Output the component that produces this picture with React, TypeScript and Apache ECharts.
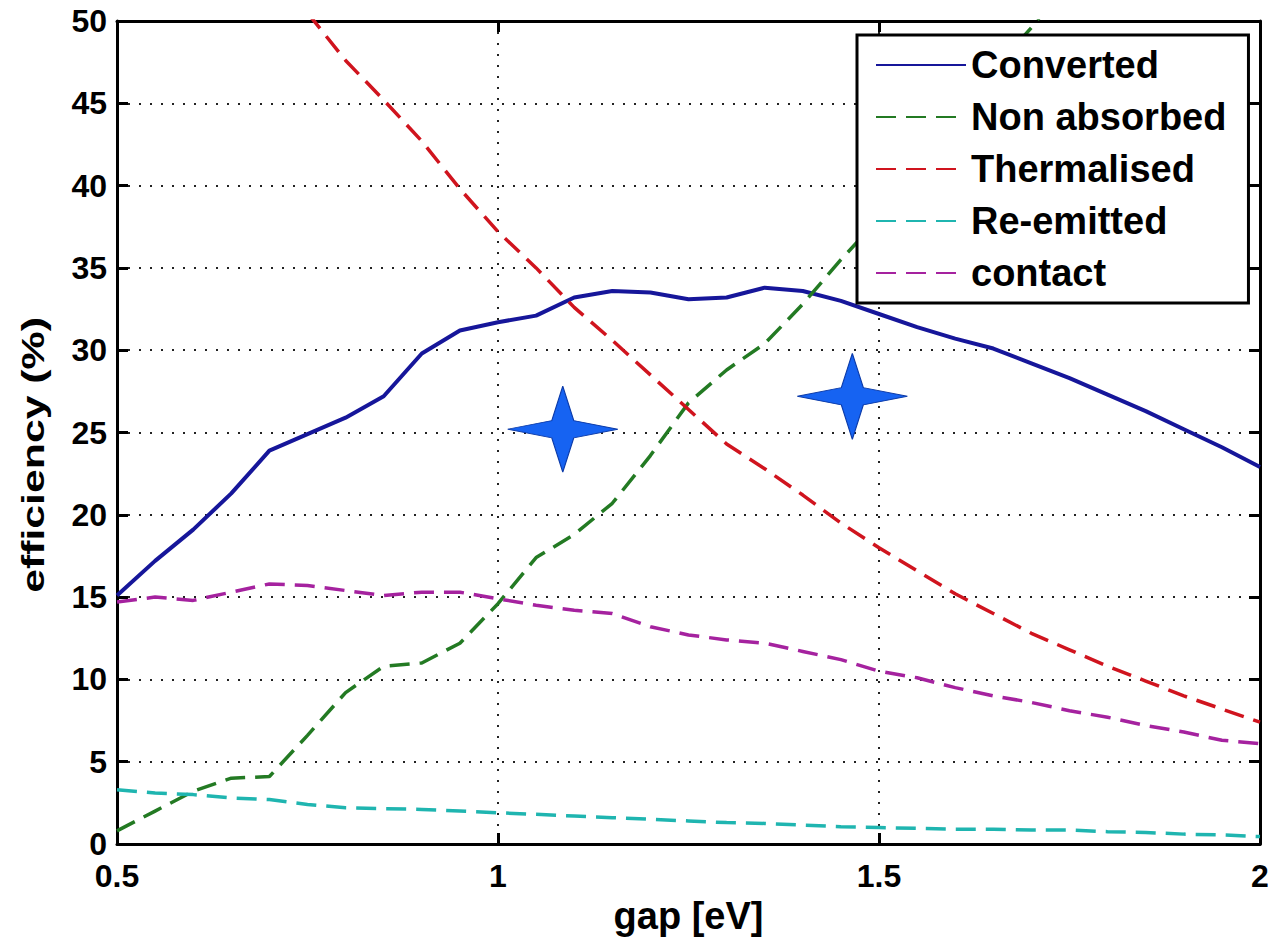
import React, { useEffect, useRef } from "react";
import * as echarts from "echarts";

// band gap [eV]
const gap = [
  0.5, 0.55, 0.6, 0.65, 0.7, 0.75, 0.8, 0.85, 0.9, 0.95, 1.0, 1.05, 1.1, 1.15, 1.2, 1.25,
  1.3, 1.35, 1.4, 1.45, 1.5, 1.55, 1.6, 1.65, 1.7, 1.75, 1.8, 1.85, 1.9, 1.95, 2.0,
];

const converted = [
  15.1, 17.2, 19.1, 21.3, 23.9, 24.9, 25.9, 27.2, 29.8, 31.2, 31.7, 32.1, 33.2, 33.6, 33.5, 33.1,
  33.2, 33.8, 33.6, 33.0, 32.2, 31.4, 30.7, 30.1, 29.2, 28.3, 27.3, 26.3, 25.2, 24.1, 22.9,
];

const nonAbsorbed = [
  0.8, 2.0, 3.2, 4.0, 4.1, 6.6, 9.2, 10.8, 11.0, 12.2, 14.6, 17.4, 18.8, 20.7, 23.6, 26.8,
  28.8, 30.4, 32.8, 35.5, 38.0, 41.0, 44.0, 47.0, 49.6, 52.5, null, null, null, null, null,
];

const thermalised = [
  null, null, null, null, null, 50.5, 47.6, 45.2, 42.7, 39.8, 37.2, 35.0, 32.6, 30.6, 28.5, 26.4,
  24.3, 22.8, 21.2, 19.5, 18.0, 16.6, 15.2, 14.0, 12.8, 11.8, 10.8, 9.9, 9.0, 8.2, 7.4,
];

const reEmitted = [
  3.3, 3.1, 3.0, 2.8, 2.7, 2.4, 2.2, 2.15, 2.1, 2.0, 1.9, 1.8, 1.7, 1.6, 1.5, 1.4,
  1.3, 1.25, 1.15, 1.05, 1.0, 0.95, 0.9, 0.9, 0.85, 0.85, 0.75, 0.7, 0.6, 0.55, 0.45,
];

const contact = [
  14.7, 15.0, 14.8, 15.3, 15.8, 15.7, 15.4, 15.1, 15.3, 15.3, 14.9, 14.5, 14.2, 14.0, 13.2, 12.7,
  12.4, 12.2, 11.7, 11.2, 10.5, 10.1, 9.5, 9.0, 8.6, 8.1, 7.7, 7.2, 6.8, 6.3, 6.1,
];

const seriesNames = ["Converted", "Non absorbed", "Thermalised", "Re-emitted", "contact"];
const seriesColors = ["#16169a", "#237a23", "#d0141e", "#1fb5b0", "#a5229f"];

// star annotations [gap, efficiency]
const starPoints = [
  [1.085, 25.2],
  [1.465, 27.2],
];

const xTicks = { min: 0.5, max: 2, interval: 0.5 };
const yTicks = { min: 0, max: 50, interval: 5 };

const xAxisTitle = "gap [eV]";
const yAxisTitle = "efficiency (%)";

const FONT = "'Liberation Sans', Arial, sans-serif";

const starPath =
  "path://M0,-100 L20,-20 L100,0 L20,20 L0,100 L-20,20 L-100,0 L-20,-20 Z";

function pairs(vals: (number | null)[]) {
  const out: number[][] = [];
  gap.forEach((x, i) => {
    const v = vals[i];
    if (v !== null && v !== undefined) out.push([x, v]);
  });
  return out;
}

export default function App() {
  const ref = useRef<HTMLDivElement>(null);

  useEffect(() => {
    if (!ref.current) return;
    const chart = echarts.init(ref.current, null, { renderer: "svg" });

    const allVals = [converted, nonAbsorbed, thermalised, reEmitted, contact];
    const lineSeries = seriesNames.map((name, i) => ({
      name,
      type: "line",
      data: pairs(allVals[i]),
      symbol: "none",
      showSymbol: false,
      clip: true,
      z: 2,
      lineStyle: {
        color: seriesColors[i],
        width: i === 0 ? 4 : 3.5,
        type: i === 0 ? "solid" : [20, 10],
      },
      itemStyle: { color: seriesColors[i] },
    }));

    const axisLineStyle = { color: "#000", width: 3 };

    const option: any = {
      animation: false,
      backgroundColor: "#fff",
      grid: { left: 117, top: 21, right: 14, bottom: 100, containLabel: false },
      legend: {
        data: seriesNames,
        orient: "vertical",
        left: 857,
        top: 35,
        padding: [10, 22, 10, 18],
        itemWidth: 90,
        itemHeight: 14,
        itemGap: 12,
        backgroundColor: "#fff",
        borderColor: "#000",
        borderWidth: 3,
        borderRadius: 0,
        z: 10,
        itemStyle: { opacity: 0, color: "rgba(0,0,0,0)", borderWidth: 0 },
        textStyle: {
          fontFamily: FONT,
          fontWeight: "bold",
          fontSize: 38,
          lineHeight: 40,
          color: "#000",
        },
      },
      graphic: [
        {
          type: "text",
          x: 33,
          y: 455,
          rotation: Math.PI / 2,
          scaleX: 1.07,
          scaleY: 0.8,
          silent: true,
          style: {
            text: yAxisTitle,
            fontFamily: FONT,
            fontWeight: "bold",
            fontSize: 40,
            fill: "#000",
            align: "center",
            verticalAlign: "middle",
          },
        },
      ],
      xAxis: [
        {
          type: "value",
          ...xTicks,
          name: xAxisTitle,
          nameLocation: "middle",
          nameGap: 50,
          nameTextStyle: { fontFamily: FONT, fontWeight: "bold", fontSize: 38, color: "#000" },
          axisLine: { show: true, onZero: false, lineStyle: axisLineStyle },
          axisTick: { show: true, inside: true, length: 11, lineStyle: axisLineStyle },
          axisLabel: {
            fontFamily: FONT,
            fontWeight: "bold",
            fontSize: 32,
            lineHeight: 26,
            color: "#000",
            margin: 19,
          },
          splitLine: { show: true, lineStyle: { type: [2, 9], color: "#222", width: 2 } },
        },
        {
          type: "value",
          ...xTicks,
          position: "top",
          axisLine: { show: true, onZero: false, lineStyle: axisLineStyle },
          axisTick: { show: true, inside: true, length: 11, lineStyle: axisLineStyle },
          axisLabel: { show: false },
          splitLine: { show: false },
        },
      ],
      yAxis: [
        {
          type: "value",
          ...yTicks,
          axisLine: { show: true, onZero: false, lineStyle: axisLineStyle },
          axisTick: { show: true, inside: true, length: 11, lineStyle: axisLineStyle },
          axisLabel: {
            fontFamily: FONT,
            fontWeight: "bold",
            fontSize: 32,
            lineHeight: 24,
            color: "#000",
            margin: 10,
          },
          splitLine: { show: true, lineStyle: { type: [2, 9], color: "#222", width: 2 } },
        },
        {
          type: "value",
          ...yTicks,
          position: "right",
          axisLine: { show: true, onZero: false, lineStyle: axisLineStyle },
          axisTick: { show: true, inside: true, length: 11, lineStyle: axisLineStyle },
          axisLabel: { show: false },
          splitLine: { show: false },
        },
      ],
      series: [
        ...lineSeries,
        {
          name: "stars",
          type: "scatter",
          data: starPoints,
          symbol: starPath,
          symbolSize: [110, 86],
          z: 5,
          itemStyle: { color: "#1663f2", borderColor: "#0b3aa8", borderWidth: 1, opacity: 1 },
          emphasis: { disabled: true },
        },
      ],
    };

    chart.setOption(option);
    return () => chart.dispose();
  }, []);

  return (
    <div
      ref={ref}
      style={{ position: "fixed", left: 0, top: 0, width: 1274, height: 944, background: "#fff" }}
    />
  );
}
